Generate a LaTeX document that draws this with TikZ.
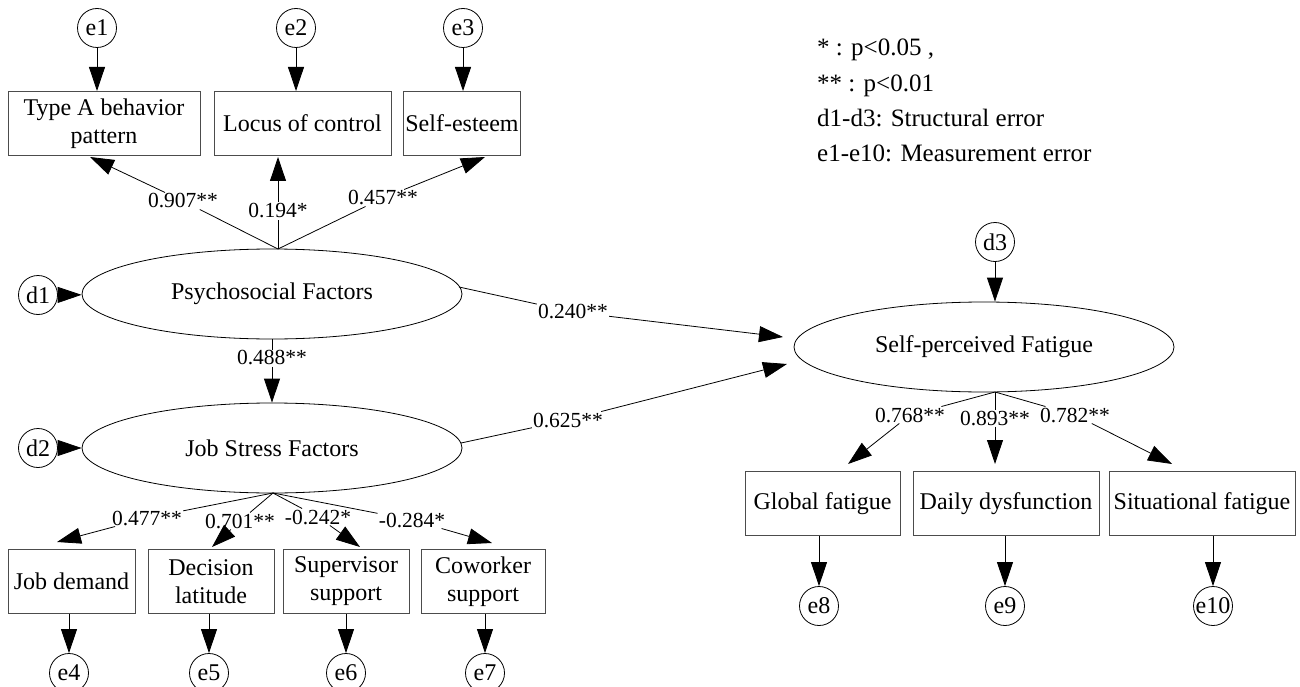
\documentclass[tikz,border=0pt]{standalone}
\usepackage{fontspec}
\setmainfont{Liberation Serif}
\usetikzlibrary{arrows.meta,shapes.geometric}
\begin{document}
\begin{tikzpicture}[x=1pt,y=-1pt,
  every node/.style={font=\fontsize{24}{28}\selectfont},
  lat/.style={draw, ellipse, minimum width=380pt, minimum height=90pt, inner sep=0pt, line width=0.8pt},
  obs/.style={draw=black!70, line width=1pt, rectangle, align=center, minimum height=64pt, inner sep=2pt},
  err/.style={draw, circle, minimum size=39pt, inner sep=0pt, line width=0.8pt},
  lbl/.style={font=\fontsize{21.5}{24}\selectfont, inner sep=1pt},
  leg/.style={anchor=base west, inner sep=0pt, font=\fontsize{25}{28}\selectfont},
  arr/.style={-{Triangle[length=24pt,width=16pt]}, line width=0.8pt},
  ln/.style={line width=0.8pt}]
\useasboundingbox (0,0) rectangle (1300,687);

% top indicators
\node[obs, minimum width=192pt] (A) at (104,123.5) {Type A behavior\\pattern};
\node[obs, minimum width=177pt] (L) at (302.5,123.5) {Locus of control};
\node[obs, minimum width=116pt] (S) at (462,123.5) {Self-esteem};
\node[err] (e1) at (97,28) {e1};
\node[err] (e2) at (296,28) {e2};
\node[err] (e3) at (463,28) {e3};
\draw[arr] (e1) -- (e1 |- A.north);
\draw[arr] (e2) -- (e2 |- L.north);
\draw[arr] (e3) -- (e3 |- S.north);

% latent
\node[lat] (psy) at (272,294) {Psychosocial Factors};
\node[lat] (js) at (272,448) {Job Stress Factors};
\node[lat] (spf) at (984,347) {Self-perceived Fatigue};
\node[err] (d1) at (38,295) {d1};
\node[err] (d2) at (38,448) {d2};
\node[err] (d3) at (995,242) {d3};
\draw[arr] (d1) -- (psy);
\draw[arr] (d2) -- (js);
\draw[arr] (d3) -- (d3 |- spf.north);

% psychosocial loadings
\coordinate (jP) at (278,249);
\coordinate (tA) at (90,157);
\coordinate (tL) at (278,157);
\coordinate (tS) at (485,157);
\node[lbl] (l907) at (183,201) {0.907**};
\node[lbl] (l194) at (278,211) {0.194*};
\node[lbl] (l457) at (383,198) {0.457**};
\draw[ln] (jP) -- (l907); \draw[arr] (l907) -- (tA);
\draw[ln] (jP) -- (l194); \draw[arr] (l194) -- (tL);
\draw[ln] (jP) -- (l457); \draw[arr] (l457) -- (tS);

% psy -> js
\node[lbl] (l488) at (272,358) {0.488**};
\draw[ln] (psy.south) -- (l488);
\draw[arr] (l488) -- (js.north);

% structural to fatigue
\coordinate (pR) at (459,287);
\coordinate (jR) at (461,443);
\coordinate (tP) at (783,337);
\coordinate (tJ) at (787,364);
\node[lbl] (l240) at (573,312) {0.240**};
\node[lbl] (l625) at (568,420) {0.625**};
\draw[ln] (pR) -- (l240); \draw[arr] (l240) -- (tP);
\draw[ln] (jR) -- (l625); \draw[arr] (l625) -- (tJ);

% job stress indicators
\node[obs, minimum width=127pt] (jd) at (71.5,581.5) {Job demand};
\node[obs, minimum width=126pt] (dl) at (211,581.5) {Decision\\latitude};
\node[obs, minimum width=126pt] (ss) at (346,581.5) {Supervisor\\support};
\node[obs, minimum width=124pt] (cs) at (483,581.5) {Coworker\\support};
\node[err] (e4) at (69,673) {e4};
\node[err] (e5) at (209,673) {e5};
\node[err] (e6) at (346,673) {e6};
\node[err] (e7) at (485,673) {e7};
\draw[arr] (e4 |- jd.south) -- (e4);
\draw[arr] (e5 |- dl.south) -- (e5);
\draw[arr] (e6 |- ss.south) -- (e6);
\draw[arr] (e7 |- cs.south) -- (e7);
\coordinate (jJ) at (273,493);
\coordinate (tjd) at (57,542);
\coordinate (tdl) at (212,547);
\coordinate (tss) at (360,547);
\coordinate (tcs) at (492,543);
\node[lbl] (l477) at (147,518) {0.477**};
\node[lbl] (l701) at (240,521) {0.701**};
\node[lbl] (l242) at (318,517) {-0.242*};
\node[lbl] (l284) at (412,520) {-0.284*};
\draw[ln] (jJ) -- (l477); \draw[arr] (l477) -- (tjd);
\draw[ln] (jJ) -- (l701); \draw[arr] (l701) -- (tdl);
\draw[ln] (jJ) -- (l242); \draw[arr] (l242) -- (tss);
\draw[ln] (jJ) -- (l284); \draw[arr] (l284) -- (tcs);

% fatigue indicators
\node[obs, minimum width=155pt] (gf) at (822.5,503.5) {Global fatigue};
\node[obs, minimum width=186pt] (dd) at (1006,503.5) {Daily dysfunction};
\node[obs, minimum width=186pt] (sf) at (1202,503.5) {Situational fatigue};
\node[err] (e8) at (819,606) {e8};
\node[err] (e9) at (1005,606) {e9};
\node[err] (e10) at (1213,606) {e10};
\draw[arr] (e8 |- gf.south) -- (e8);
\draw[arr] (e9 |- dd.south) -- (e9);
\draw[arr] (e10 |- sf.south) -- (e10);
\coordinate (jS) at (995,392);
\coordinate (tgf) at (848,464);
\coordinate (tdd) at (995,464);
\coordinate (tsf) at (1172,464);
\node[lbl] (l768) at (910,415) {0.768**};
\node[lbl] (l893) at (995,418) {0.893**};
\node[lbl] (l782) at (1075,415) {0.782**};
\draw[ln] (jS) -- (l768); \draw[arr] (l768) -- (tgf);
\draw[ln] (jS) -- (l893); \draw[arr] (l893) -- (tdd);
\draw[ln] (jS) -- (l782); \draw[arr] (l782) -- (tsf);

% legend
\node[leg] (g1) at (817,56) {* : p<0.05 ,};
\node[leg] (g2) at (817,92) {** : p<0.01};
\node[leg] (g3) at (817,127) {d1-d3: Structural error};
\node[leg] (g4) at (817,162) {e1-e10: Measurement error};
\end{tikzpicture}
\end{document}
